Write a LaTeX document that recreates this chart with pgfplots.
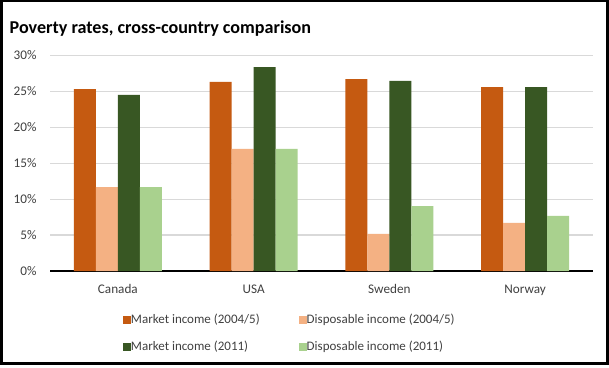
\documentclass[border=0pt]{standalone}
\usepackage{fontspec}
\setmainfont{Carlito}
\usepackage{pgfplots}
\pgfplotsset{compat=1.18}
\definecolor{mkA}{HTML}{C55A11}
\definecolor{dpA}{HTML}{F4B183}
\definecolor{mkB}{HTML}{385723}
\definecolor{dpB}{HTML}{A9D18E}
\definecolor{gridg}{HTML}{D9D9D9}
\definecolor{txt}{HTML}{404040}
\begin{document}
\begin{tikzpicture}
\fill[white] (0pt,0pt) rectangle (609pt,367pt);
\node[anchor=base west, font=\fontsize{18.1}{22}\selectfont\bfseries, text=black, inner sep=0pt] at (9.5pt,333.5pt) {Poverty rates, cross-country comparison};
\begin{axis}[
  at={(50pt,96pt)}, anchor=south west,
  scale only axis, width=543pt, height=215.7pt,
  ymin=0, ymax=30, xmin=-0.5, xmax=3.5,
  ybar=0pt, bar width=22pt,
  ytick={0,5,...,30},
  xtick={0,1,2,3}, xticklabels={Canada,USA,Sweden,Norway},
  /pgf/number format/assume math mode=true,
  yticklabel={\pgfmathprintnumber{\tick}\%},
  yticklabel style={font=\fontsize{13.2}{15}\selectfont, text=txt, xshift=-10pt},
  xticklabel style={font=\fontsize{13.2}{15}\selectfont, text=txt, yshift=-10pt},
  major tick length=0pt,
  ymajorgrids, grid style={draw=gridg, line width=1.2pt},
  axis x line*=bottom, axis y line*=left,
  x axis line style={draw=black, line width=2pt, -},
  y axis line style={draw=none},
  every axis plot/.append style={draw=none},
  legend columns=2,
  legend cell align=left,
  legend image code/.code={\fill[#1] (0pt,-4pt) rectangle (8pt,4pt);},
  legend style={draw=none, fill=none, font=\fontsize{13}{15}\selectfont, text=txt,
    at={(0.134,-0.19)}, anchor=north west, inner sep=0pt, row sep=12pt,
    /tikz/every even column/.append style={column sep=37pt},
    /tikz/every odd column/.append style={column sep=-2pt}},
]
\addplot[fill=mkA] coordinates {(0,25.31) (1,26.29) (2,26.70) (3,25.59)};
\addplot[fill=dpA] coordinates {(0,11.68) (1,16.97) (2,5.15) (3,6.68)};
\addplot[fill=mkB] coordinates {(0,24.48) (1,28.37) (2,26.43) (3,25.59)};
\addplot[fill=dpB] coordinates {(0,11.68) (1,16.97) (2,9.04) (3,7.65)};
\legend{Market income (2004/5),Disposable income (2004/5),Market income (2011),Disposable income (2011)}
\end{axis}
\draw[line width=2.5pt, black] (1.25pt,3.5pt) rectangle (607.25pt,365.75pt);
\end{tikzpicture}
\end{document}
